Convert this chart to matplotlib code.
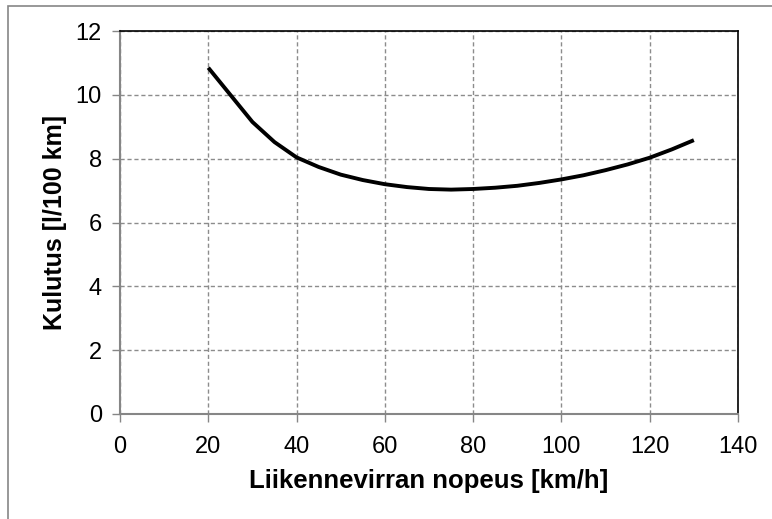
import matplotlib
matplotlib.use("Agg")
import matplotlib.pyplot as plt
from matplotlib.patches import Rectangle

plt.rcParams['font.family'] = ['Liberation Sans', 'DejaVu Sans']

speed = [20, 25, 30, 35, 40, 45, 50, 55, 60, 65, 70, 75, 80, 85, 90, 95, 100, 105, 110, 115, 120, 125, 130]
consumption = [10.85, 10.0, 9.15, 8.52, 8.04, 7.74, 7.5, 7.33, 7.2, 7.11, 7.05, 7.03, 7.05, 7.09, 7.15, 7.24, 7.35, 7.48, 7.64, 7.82, 8.03, 8.29, 8.58]
xticks = [0, 20, 40, 60, 80, 100, 120, 140]
yticks = [0, 2, 4, 6, 8, 10, 12]
xlabel = "Liikennevirran nopeus [km/h]"
ylabel = "Kulutus [l/100 km]"

W, H = 772, 519
fig = plt.figure(figsize=(W / 100, H / 100), dpi=100)
ax = fig.add_axes([120 / W, 1 - 414 / H, (738 - 120) / W, (414 - 31) / H])

ax.plot(speed, consumption, color='black', lw=2.8, solid_capstyle='butt', solid_joinstyle='round')
ax.set_xlim(0, 140)
ax.set_ylim(0, 12)
ax.set_xticks(xticks)
ax.set_yticks(yticks)
ax.grid(True, color='#8c8c8c', linestyle=(0, (3, 2)), lw=1.0)
ax.set_axisbelow(True)

for s in ['left', 'bottom']:
    ax.spines[s].set_color('#868686')
    ax.spines[s].set_linewidth(1.5)
for s in ['top', 'right']:
    ax.spines[s].set_color('black')
    ax.spines[s].set_linewidth(1.2)

ax.tick_params(axis='both', direction='out', length=6, width=1.0, color='#868686',
               labelsize=17, labelcolor='black')
ax.tick_params(axis='x', pad=10)
ax.tick_params(axis='y', pad=7)
ax.set_xlabel(xlabel, fontsize=18.5, fontweight='bold', labelpad=8)
ax.set_ylabel(ylabel, fontsize=18, fontweight='bold', labelpad=6)

fig.patches.append(Rectangle((8 / W, -0.1), 2.0, 1 - 6 / H + 0.1, transform=fig.transFigure,
                             fill=False, edgecolor='#868686', lw=1.2, figure=fig))

fig.savefig("out.png", dpi=100)
